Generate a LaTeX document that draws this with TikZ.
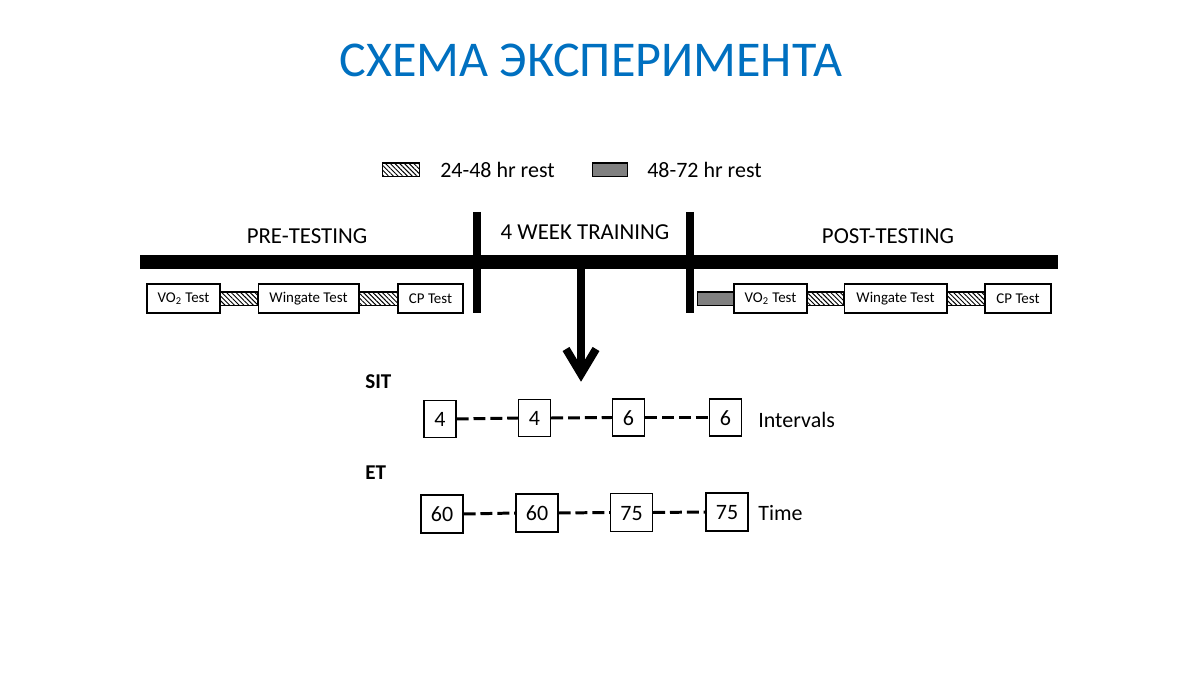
\documentclass[tikz,border=0pt]{standalone}
\usepackage{fontspec}
\setmainfont{Carlito}
\usetikzlibrary{patterns.meta}
\definecolor{titleblue}{RGB}{0,112,192}
\definecolor{restgray}{RGB}{128,128,128}
\def\u{0.5669pt}
\tikzset{
  testbox/.style={draw=black, line width=0.8pt, fill=white, minimum height={29*\u}, inner sep=0pt, font=\fontsize{8.5}{10}\selectfont},
  hatchbox/.style={draw=black, line width=0.6pt, minimum height={14*\u}, inner sep=0pt,
     pattern={Lines[angle=-45,distance=1.9pt,line width=0.55pt]}},
  graybox/.style={draw=black, line width=0.6pt, fill=restgray, minimum height={14*\u}, inner sep=0pt},
  numbox/.style={draw=black, line width=0.8pt, fill=white, inner sep=0pt, text height=8.6pt, text depth=0pt, font=\fontsize{12.5}{14}\selectfont},
  phase/.style={inner sep=0pt, font=\fontsize{13}{15}\selectfont},
  lbl/.style={inner sep=0pt, font=\fontsize{12.5}{15}\selectfont},
  grp/.style={inner sep=0pt, font=\fontsize{12}{14}\selectfont\bfseries},
  thickbar/.style={line width={15*\u}},
  vbar/.style={line width={8*\u}},
  dashlink/.style={line width={3*\u}, dash pattern=on 6.8pt off 2.8pt},
}
\begin{document}
\begin{tikzpicture}[x=0.02cm, y=-0.02cm]
\useasboundingbox (0,0) rectangle (1200,675);
% title
\node[inner sep=0pt, text=titleblue, font=\fontsize{28.5}{34}\selectfont] (title) at (591,60) {СХЕМА ЭКСПЕРИМЕНТА};
% legend
\node[hatchbox, minimum width={38*\u}] (lh) at (401,170) {};
\node[lbl, anchor=west] (lht) at (440,170) {24-48 hr rest};
\node[graybox, minimum width={36*\u}] (lg) at (610,170) {};
\node[lbl, anchor=west] (lgt) at (647,170) {48-72 hr rest};
% phases
\node[phase] (pre) at (307,236) {PRE-TESTING};
\node[phase] (train) at (585,232) {4 WEEK TRAINING};
\node[phase] (post) at (888,236) {POST-TESTING};
% bars
\coordinate (barL) at (140,262);
\coordinate (barR) at (1058,262);
\draw[thickbar] (barL) -- (barR);
\coordinate (v1t) at (477,212); \coordinate (v1b) at (477,313);
\coordinate (v2t) at (690,212); \coordinate (v2b) at (690,313);
\draw[vbar] (v1t) -- (v1b);
\draw[vbar] (v2t) -- (v2b);
% arrow
\coordinate (as) at (581,268);
\coordinate (tip) at (581,374);
\coordinate (wl) at (566,349);
\coordinate (wr) at (596,349);
\draw[vbar] (as) -- (tip);
\draw[vbar, line join=miter] (wl) -- (tip) -- (wr);
% pre-testing boxes
\node[testbox, minimum width={73*\u}] (vo2a) at (183.5,298.5) {VO\textsubscript{2} Test};
\node[hatchbox, minimum width={38*\u}] (h1) at (239,299) {};
\node[testbox, minimum width={101*\u}] (winga) at (308.5,298.5) {Wingate Test};
\node[hatchbox, minimum width={39*\u}] (h2) at (378.5,299) {};
\node[testbox, minimum width={65*\u}] (cpa) at (430.5,298.5) {CP Test};
% post-testing boxes
\node[graybox, minimum width={37*\u}] (g1) at (715.5,299) {};
\node[testbox, minimum width={73*\u}] (vo2b) at (770.5,298.5) {VO\textsubscript{2} Test};
\node[hatchbox, minimum width={37*\u}] (h3) at (825.5,299) {};
\node[testbox, minimum width={103*\u}] (wingb) at (895.5,298.5) {Wingate Test};
\node[hatchbox, minimum width={38*\u}] (h4) at (966,299) {};
\node[testbox, minimum width={66*\u}] (cpb) at (1018,298.5) {CP Test};
% SIT
\node[grp, anchor=west] (sit) at (365,382) {SIT};
\node[numbox, minimum width={32*\u}, minimum height={37*\u}] (s1) at (440,419) {4};
\node[numbox, minimum width={32*\u}, minimum height={37*\u}] (s2) at (534.5,418) {4};
\node[numbox, minimum width={32*\u}, minimum height={37*\u}] (s3) at (628.5,417.5) {6};
\node[numbox, minimum width={32*\u}, minimum height={37*\u}] (s4) at (725.5,417.5) {6};
\node[lbl, anchor=west] (intv) at (758,420) {Intervals};
\draw[dashlink] (s1.east) -- (s2.west);
\draw[dashlink] (s2.east) -- (s3.west);
\draw[dashlink] (s3.east) -- (s4.west);
% ET
\node[grp, anchor=west] (et) at (365,473) {ET};
\node[numbox, minimum width={42*\u}, minimum height={38*\u}] (e1) at (442,514) {60};
\node[numbox, minimum width={42*\u}, minimum height={38*\u}] (e2) at (537,513) {60};
\node[numbox, minimum width={42*\u}, minimum height={38*\u}] (e3) at (631.5,512.5) {75};
\node[numbox, minimum width={42*\u}, minimum height={38*\u}] (e4) at (727,512) {75};
\node[lbl, anchor=west] (time) at (758,513) {Time};
\draw[dashlink] (e1.east) -- (e2.west);
\draw[dashlink] (e2.east) -- (e3.west);
\draw[dashlink] (e3.east) -- (e4.west);
\end{tikzpicture}
\end{document}
